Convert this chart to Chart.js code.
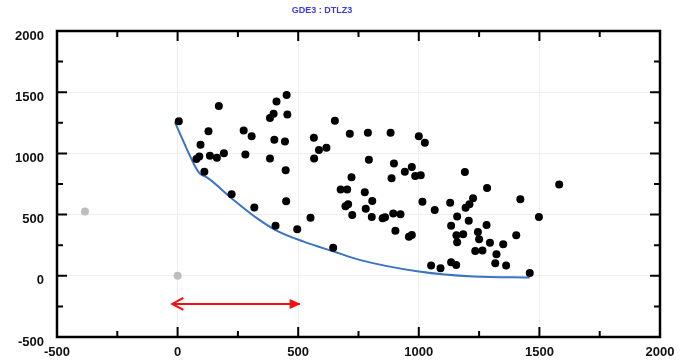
<!DOCTYPE html>
<html>
<head>
<meta charset="utf-8">
<script src="https://cdn.jsdelivr.net/npm/chart.js@4"></script>
<style>
  html, body { margin: 0; padding: 0; background: #fff; }
</style>
</head>
<body>
<canvas id="chart" width="685" height="360"></canvas>
<script>
// chart values
const titleText = "GDE3 : DTLZ3";
const axisMin = -500;
const axisMax = 2000;
const majorStep = 500;
const minorStep = 250;

// black solution points
const dotsX = [5, 171, 128, 95, 78, 90, 134, 163, 192, 111, 274, 307, 281, 224, 318, 406, 496, 551, 450, 448,
  383, 401, 445, 383, 398, 410, 452, 455, 565, 586, 617, 566, 652, 714, 676, 703, 696, 707, 645,
  789, 883, 1000, 1025, 793, 897, 887, 942, 971, 985, 1008, 721, 776, 807, 780, 724, 805, 850, 860,
  894, 924, 903, 959, 971, 1015, 1066, 1191, 1283, 1421, 1130, 1159, 1207, 1194, 1210, 1225, 1134,
  1156, 1184, 1159, 1245, 1250, 1281, 1295, 1350, 1404, 1234, 1264, 1322, 1582, 1498, 1362, 1460,
  1051, 1090, 1134, 1155, 1317];
const dotsY = [1262, 1388, 1181, 1071, 955, 975, 981, 965, 1002, 851, 1187, 1141, 992, 667, 558, 409, 380, 474, 610, 862,
  959, 1111, 1098, 1290, 1323, 1425, 1477, 1317, 1128, 1027, 1046, 959, 1266, 1160, 705, 705, 569, 585, 230,
  1168, 1168, 1141, 1087, 948, 918, 797, 851, 889, 815, 821, 805, 683, 612, 547, 496, 480, 470, 478,
  510, 502, 368, 320, 333, 604, 537, 848, 718, 626, 596, 485, 450, 555, 585, 634, 409,
  331, 339, 274, 358, 298, 415, 271, 258, 331, 203, 206, 176, 745, 480, 84, 22,
  84, 62, 111, 89, 103];

// grey reference points
const greyX = [-384, 0];
const greyY = [526, 0];

// blue front curve
const frontX = [-11, 75, 92, 123, 225, 330, 406, 523, 648, 758, 1000, 1228, 1460];
const frontY = [1254, 884, 835, 802, 632, 469, 374, 279, 198, 128, 35, -6, -14];

// red double arrow
const arrowX = [-22, 506];
const arrowY = [-230, -230];

function toPoints(xs, ys) {
  return xs.map((x, i) => ({ x: x, y: ys[i] }));
}

const tickFont = { family: "Arial, 'Liberation Sans', sans-serif", size: 13, weight: "bold" };

// frame + inward ticks like the original plot
const framePlugin = {
  id: "frame",
  afterDraw(chart) {
    const ctx = chart.ctx;
    const a = chart.chartArea;
    const sx = chart.scales.x;
    const sy = chart.scales.y;
    ctx.save();
    ctx.strokeStyle = "#000";
    ctx.lineWidth = 2;
    for (let v = axisMin + minorStep; v < axisMax; v += minorStep) {
      const len = v % majorStep === 0 ? 10 : 6;
      const px = sx.getPixelForValue(v);
      const py = sy.getPixelForValue(v);
      ctx.beginPath();
      ctx.moveTo(px, a.bottom); ctx.lineTo(px, a.bottom - len);
      ctx.moveTo(px, a.top); ctx.lineTo(px, a.top + len);
      ctx.moveTo(a.left, py); ctx.lineTo(a.left + len, py);
      ctx.moveTo(a.right, py); ctx.lineTo(a.right - len, py);
      ctx.stroke();
    }
    ctx.lineWidth = 2.5;
    ctx.strokeRect(a.left, a.top, a.right - a.left, a.bottom - a.top);

    // title
    ctx.fillStyle = "#3a3af0";
    ctx.font = "bold 9px Arial, 'Liberation Sans', sans-serif";
    ctx.textAlign = "center";
    ctx.textBaseline = "middle";
    ctx.fillText(titleText, 322, 11);
    ctx.restore();
  }
};

// arrow heads on the red line
const arrowPlugin = {
  id: "arrowHeads",
  afterDatasetsDraw(chart) {
    const meta = chart.getDatasetMeta(3);
    const p0 = meta.data[0];
    const p1 = meta.data[1];
    const ctx = chart.ctx;
    ctx.save();
    ctx.strokeStyle = "#f01010";
    ctx.fillStyle = "#f01010";
    ctx.lineWidth = 2;
    ctx.beginPath();
    ctx.moveTo(p0.x + 11, p0.y - 6);
    ctx.lineTo(p0.x, p0.y);
    ctx.lineTo(p0.x + 11, p0.y + 6);
    ctx.stroke();
    ctx.beginPath();
    ctx.moveTo(p1.x + 1, p1.y);
    ctx.lineTo(p1.x - 10, p1.y - 5);
    ctx.lineTo(p1.x - 10, p1.y + 5);
    ctx.closePath();
    ctx.fill();
    ctx.restore();
  }
};

const ctx = document.getElementById("chart").getContext("2d");
const chart = new Chart(ctx, {
  type: "scatter",
  data: {
    datasets: [
      {
        label: "front",
        data: toPoints(frontX, frontY),
        showLine: true,
        borderColor: "#3b74c2",
        borderWidth: 2,
        pointRadius: 0,
        cubicInterpolationMode: "monotone",
        order: 3
      },
      {
        label: "solutions",
        data: toPoints(dotsX, dotsY),
        backgroundColor: "#000",
        borderWidth: 0,
        pointRadius: 4,
        order: 1
      },
      {
        label: "reference",
        data: toPoints(greyX, greyY),
        backgroundColor: "#bdbdbd",
        borderWidth: 0,
        pointRadius: 4,
        order: 2
      },
      {
        label: "range",
        data: toPoints(arrowX, arrowY),
        showLine: true,
        borderColor: "#f01010",
        borderWidth: 2,
        pointRadius: 0,
        order: 4
      }
    ]
  },
  options: {
    responsive: false,
    animation: false,
    layout: { padding: { top: 31, right: 25, left: 0, bottom: 0 } },
    plugins: {
      legend: { display: false },
      tooltip: { enabled: false },
      title: { display: false }
    },
    scales: {
      x: {
        type: "linear",
        min: axisMin,
        max: axisMax,
        afterFit: s => { s.height = 23; },
        border: { display: false },
        grid: { color: "#eeeeee", drawTicks: false },
        ticks: {
          stepSize: majorStep,
          autoSkip: false,
          maxRotation: 0,
          padding: 8,
          color: "#111",
          font: tickFont,
          callback: v => String(v)
        }
      },
      y: {
        type: "linear",
        min: axisMin,
        max: axisMax,
        afterFit: s => { s.width = 57; },
        border: { display: false },
        grid: { color: "#eeeeee", drawTicks: false },
        ticks: {
          stepSize: majorStep,
          autoSkip: false,
          padding: 13,
          labelOffset: 5,
          color: "#111",
          font: tickFont,
          callback: v => String(v)
        }
      }
    }
  },
  plugins: [framePlugin, arrowPlugin]
});
</script>
</body>
</html>
